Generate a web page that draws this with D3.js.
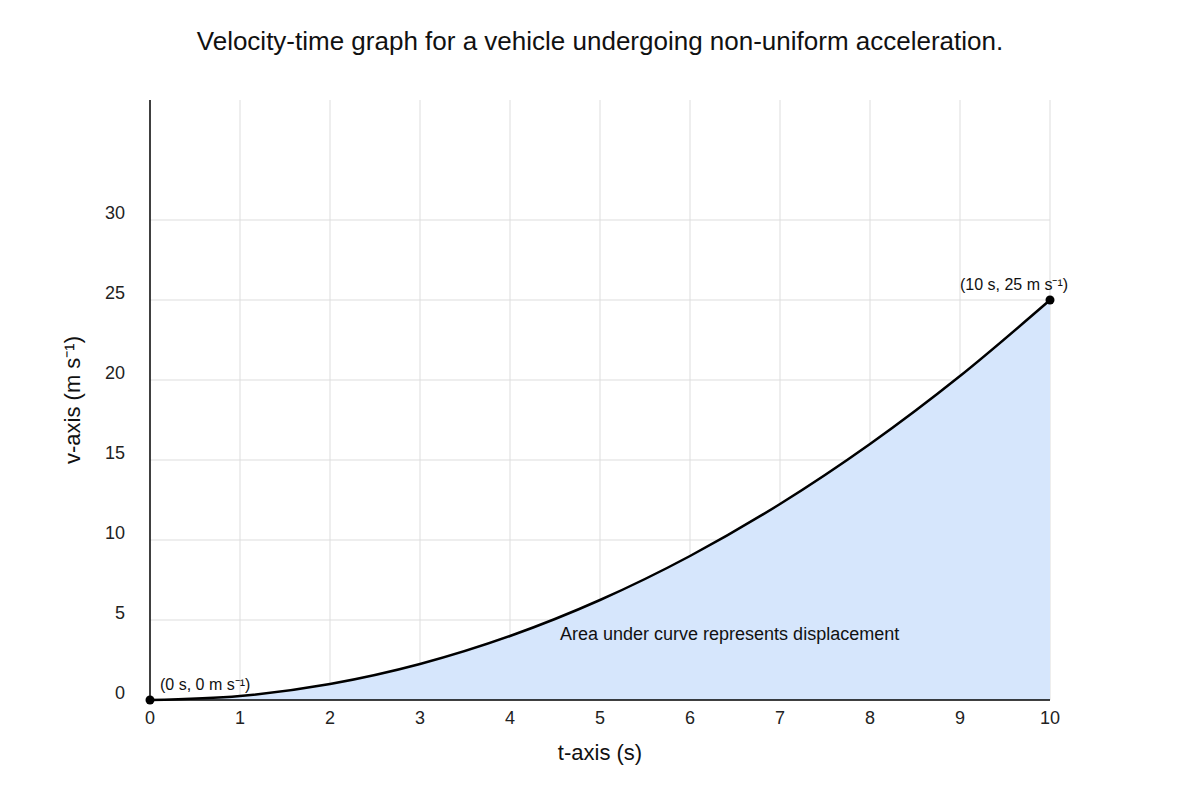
<!DOCTYPE html>
<html><head><meta charset="utf-8">
<script src="https://cdn.jsdelivr.net/npm/d3@7"></script>
<style>body{margin:0;background:#fff}text{font-family:"Liberation Sans",Arial,sans-serif}</style>
</head><body><svg id="c" width="1200" height="800"></svg>
<script>
const times=[0,1,2,3,4,5,6,7,8,9,10];
const velocities=[0,0.25,1,2.25,4,6.25,9,12.25,16,20.25,25];
const xTicks=[0,1,2,3,4,5,6,7,8,9,10];
const yTicks=[0,5,10,15,20,25,30];
const svg=d3.select("#c");
const x=d3.scaleLinear().domain([0,10]).range([150,1050]);
const y=d3.scaleLinear().domain([0,30]).range([700,220]);
const data=times.map((t,i)=>({t,v:velocities[i]}));
// grid
svg.append("g").selectAll("line").data(xTicks.slice(1)).join("line")
 .attr("x1",d=>x(d)).attr("x2",d=>x(d)).attr("y1",100).attr("y2",700).attr("stroke","#dddddd");
svg.append("g").selectAll("line").data(yTicks.slice(1)).join("line")
 .attr("x1",150).attr("x2",1050).attr("y1",d=>y(d)).attr("y2",d=>y(d)).attr("stroke","#dddddd");
// area
svg.append("path").datum(data).attr("fill","#d6e6fc")
 .attr("d",d3.area().x(d=>x(d.t)).y0(y(0)).y1(d=>y(d.v)).curve(d3.curveMonotoneX));
svg.append("path").datum(data).attr("fill","none").attr("stroke","#000").attr("stroke-width",2.5)
 .attr("d",d3.line().x(d=>x(d.t)).y(d=>y(d.v)).curve(d3.curveMonotoneX));
// axes
svg.append("line").attr("x1",150).attr("x2",150).attr("y1",100).attr("y2",700).attr("stroke","#000").attr("stroke-width",1.5);
svg.append("line").attr("x1",150).attr("x2",1050).attr("y1",700).attr("y2",700).attr("stroke","#000").attr("stroke-width",1.5);
svg.append("g").selectAll("text").data(xTicks).join("text")
 .attr("x",d=>x(d)).attr("y",724).attr("text-anchor","middle").attr("font-size",18).attr("fill","#222").text(d=>d);
svg.append("g").selectAll("text").data(yTicks).join("text")
 .attr("x",125).attr("y",d=>y(d)-1).attr("text-anchor","end").attr("font-size",18).attr("fill","#222").text(d=>d);
// points
[data[0],data[data.length-1]].forEach(d=>svg.append("circle").attr("cx",x(d.t)).attr("cy",y(d.v)).attr("r",4.5).attr("fill","#000"));
svg.append("text").attr("x",160).attr("y",690).attr("font-size",16).attr("fill","#111").text("(0 s, 0 m s⁻¹)");
svg.append("text").attr("x",960).attr("y",290).attr("font-size",16).attr("fill","#111").text("(10 s, 25 m s⁻¹)");
svg.append("text").attr("x",560).attr("y",640).attr("font-size",18).attr("fill","#111").text("Area under curve represents displacement");
// titles
svg.append("text").attr("x",600).attr("y",50).attr("text-anchor","middle").attr("font-size",26).attr("fill","#111").text("Velocity-time graph for a vehicle undergoing non-uniform acceleration.");
svg.append("text").attr("x",600).attr("y",760).attr("text-anchor","middle").attr("font-size",22).attr("fill","#111").text("t-axis (s)");
svg.append("text").attr("transform","translate(80,400) rotate(-90)").attr("text-anchor","middle").attr("font-size",22).attr("fill","#111").text("v-axis (m s⁻¹)");
</script></body></html>
